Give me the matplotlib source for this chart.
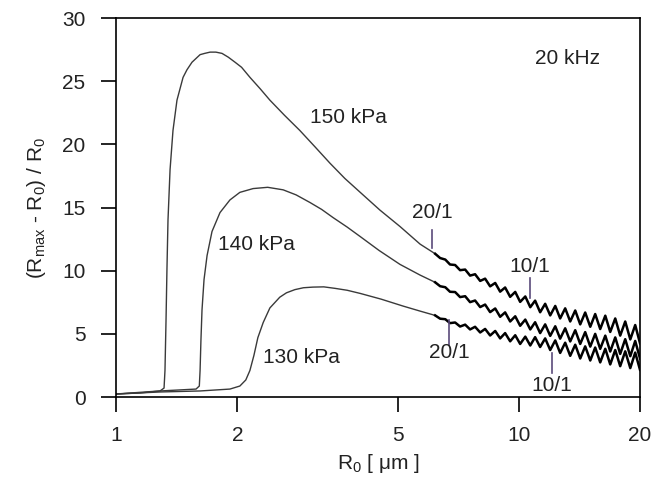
import numpy as np
import matplotlib
matplotlib.use("Agg")
import matplotlib.pyplot as plt
import matplotlib.ticker as mticker

plt.rcParams['font.family'] = ['Liberation Sans', 'DejaVu Sans']
plt.rcParams['mathtext.default'] = 'regular'

# smooth part of each curve (R0 in um, (Rmax-R0)/R0)
r150 = [1.00, 1.147, 1.286, 1.316, 1.323, 1.331, 1.338, 1.346, 1.362, 1.385, 1.417, 1.467,
        1.50, 1.544, 1.58, 1.617, 1.66, 1.712, 1.77, 1.833, 1.90, 1.975, 2.05, 2.151,
        2.28, 2.41, 2.62, 2.86, 3.12, 3.40, 3.70, 4.04, 4.52, 5.07, 5.69]
v150 = [0.24, 0.32, 0.48, 0.71, 2.1, 6.1, 10.1, 14.0, 18.0, 21.1, 23.5, 25.3,
        25.9, 26.5, 26.8, 27.1, 27.2, 27.3, 27.3, 27.2, 26.9, 26.5, 26.1, 25.3,
        24.4, 23.5, 22.3, 21.1, 19.8, 18.5, 17.3, 16.2, 14.8, 13.5, 12.1]

r140 = [1.00, 1.286, 1.58, 1.61, 1.617, 1.625, 1.635, 1.654, 1.683, 1.731, 1.812, 1.918,
        2.03, 2.19, 2.38, 2.60, 2.80, 3.03, 3.24, 3.46, 3.75, 4.04, 4.50, 5.07, 5.69]
v140 = [0.24, 0.48, 0.63, 0.87, 2.1, 4.5, 6.9, 9.3, 11.2, 13.1, 14.6, 15.6,
        16.2, 16.5, 16.6, 16.4, 16.0, 15.4, 14.85, 14.2, 13.45, 12.7, 11.6, 10.5, 9.65]

r130 = [1.00, 1.286, 1.617, 1.918, 2.03, 2.10, 2.15, 2.20, 2.25, 2.32, 2.41, 2.55,
        2.65, 2.78, 2.92, 3.08, 3.28, 3.50, 3.75, 4.04, 4.55, 5.16, 5.69]
v130 = [0.24, 0.40, 0.48, 0.63, 0.87, 1.35, 2.1, 3.3, 4.7, 5.9, 7.05, 7.9,
        8.25, 8.5, 8.65, 8.7, 8.72, 8.6, 8.45, 8.2, 7.75, 7.2, 6.8]

# oscillating tail (large R0)
r_tail = [6.20, 6.38, 6.57, 6.75, 6.95, 7.15, 7.36, 7.57, 7.79, 8.02, 8.25, 8.49,
          8.74, 8.99, 9.25, 9.52, 9.80, 10.08, 10.38, 10.68, 10.98, 11.30, 11.63, 11.97,
          12.32, 12.67, 13.04, 13.42, 13.81, 14.21, 14.62, 15.05, 15.48, 15.93, 16.40, 16.87,
          17.36, 17.86, 18.38, 18.92, 19.46, 20.0]
t150 = [11.34, 11.00, 10.88, 10.49, 10.45, 10.04, 10.09, 9.61, 9.72, 9.19, 9.37, 8.76,
        9.03, 8.34, 8.67, 7.93, 8.32, 7.53, 7.96, 7.11, 7.63, 6.71, 7.38, 6.46,
        7.21, 6.22, 7.02, 5.98, 6.85, 5.75, 6.69, 5.56, 6.57, 5.38, 6.44, 5.15,
        6.22, 4.86, 5.98, 4.56, 5.70, 4.25]
t140 = [9.08, 8.77, 8.69, 8.33, 8.31, 7.91, 7.98, 7.51, 7.64, 7.12, 7.32, 6.72,
        7.01, 6.35, 6.70, 5.98, 6.39, 5.64, 6.13, 5.35, 5.92, 5.06, 5.75, 4.84,
        5.60, 4.62, 5.44, 4.40, 5.29, 4.20, 5.14, 3.99, 5.00, 3.81, 4.86, 3.60,
        4.72, 3.41, 4.58, 3.23, 4.44, 3.05]
t130 = [6.46, 6.20, 6.16, 5.85, 5.90, 5.58, 5.73, 5.35, 5.56, 5.11, 5.39, 4.87,
        5.23, 4.64, 5.06, 4.41, 4.89, 4.20, 4.78, 4.08, 4.74, 3.96, 4.64, 3.72,
        4.48, 3.49, 4.30, 3.26, 4.14, 3.05, 4.01, 2.89, 3.92, 2.74, 3.82, 2.58,
        3.72, 2.44, 3.62, 2.29, 3.52, 2.15]

curve_labels = ["150 kPa", "140 kPa", "130 kPa"]
curve_label_pos = [(3.03, 22.1), (1.79, 12.1), (2.32, 3.1)]

# ratio markers: text, R0, text y, tick from, tick to
ratio_marks = [("20/1", 6.09, 14.6, 13.2, 11.8),
               ("10/1", 10.67, 10.3, 9.4, 7.8),
               ("20/1", 6.71, 3.5, 4.1, 6.1),
               ("10/1", 12.1, 0.95, 1.9, 3.5)]

fs = 15
txt_col = '#222222'

fig = plt.figure(figsize=(6.54, 4.83), dpi=100)
ax = fig.add_axes([0.1774, 0.178, 0.8012, 0.7847])

line_col = '#3a3a3a'
for r, v, t in [(r150, v150, t150), (r140, v140, t140), (r130, v130, t130)]:
    ax.plot(r + r_tail[:1], v + t[:1], color=line_col, lw=1.0)
    ax.plot(r_tail, t, color='black', lw=1.8)

for lab, (x, y) in zip(curve_labels, curve_label_pos):
    ax.text(x, y, lab, fontsize=fs, color=txt_col, ha='left', va='center')

for lab, r, ty, y0, y1 in ratio_marks:
    ax.plot([r, r], [y0, y1], color='#5a4a7a', lw=1.2)
    ax.text(r, ty, lab, fontsize=fs, color=txt_col, ha='center', va='center')

ax.text(10.98, 26.8, "20 kHz", fontsize=fs, color=txt_col, ha='left', va='center')

ax.set_xscale('log')
ax.set_xlim(1, 20)
ax.set_ylim(0, 30)
ax.xaxis.set_major_locator(mticker.FixedLocator([1, 2, 5, 10, 20]))
ax.xaxis.set_major_formatter(mticker.FixedFormatter(["1", "2", "5", "10", "20"]))
ax.xaxis.set_minor_locator(mticker.NullLocator())
ax.set_yticks([0, 5, 10, 15, 20, 25, 30])

ax.tick_params(axis='both', direction='out', length=11, width=1.2,
               labelsize=fs, labelcolor=txt_col)
ax.tick_params(axis='x', pad=10)
ax.tick_params(axis='y', pad=11)
for s in ax.spines.values():
    s.set_linewidth(1.2)

ax.set_xlabel(r"R$_0$ [ $\mu$m ]", fontsize=fs, color=txt_col, labelpad=5)
ax.set_ylabel(r"(R$_{max}$ - R$_0$) / R$_0$", fontsize=fs, color=txt_col, labelpad=10)

fig.savefig("out.png", dpi=100)
